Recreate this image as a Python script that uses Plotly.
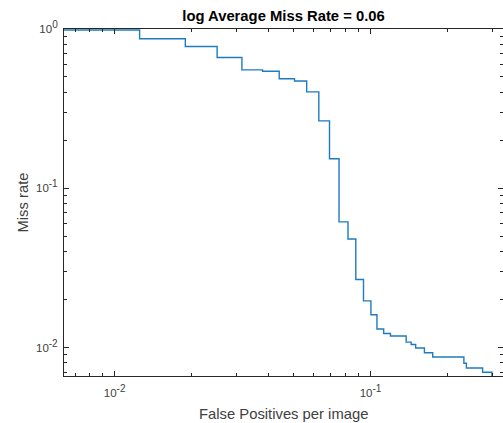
import plotly.graph_objects as go

# ROC-style miss rate vs false positives per image
fppi = [0.005, 0.01252, 0.01889, 0.02515, 0.03144, 0.03785, 0.04398, 0.05047,
        0.05632, 0.06281, 0.06915, 0.07534, 0.08168, 0.08762, 0.09391, 0.1004,
        0.1060, 0.1126, 0.1197, 0.1379, 0.1442, 0.1502, 0.1625, 0.1751,
        0.2318, 0.2371, 0.2744, 0.2983, 0.4]
miss_rate = [0.986, 0.868, 0.776, 0.662, 0.554, 0.543, 0.487, 0.471,
             0.403, 0.265, 0.1533, 0.0615, 0.0480, 0.02673, 0.01961, 0.01606,
             0.01307, 0.01225, 0.01181, 0.01080, 0.01044, 0.00993, 0.00926, 0.00872,
             0.00796, 0.00743, 0.00699, 0.00655, 0.00655]

x_major = [0.01, 0.1]
x_major_text = ["10<sup><span style='font-size:10px'>-2</span></sup>",
                "10<sup><span style='font-size:10px'>-1</span></sup>"]
y_major = [0.01, 0.1, 1]
y_major_text = ["10<sup><span style='font-size:10px'>-2</span></sup>",
                "10<sup><span style='font-size:10px'>-1</span></sup>",
                "10<sup><span style='font-size:10px'>0</span></sup>"]
minor_vals = [m * 10 ** e for e in (-3, -2, -1, 0) for m in range(2, 10)]

title_text = "log Average Miss Rate = 0.06"
x_title = "False Positives per image"
y_title = "Miss rate"

W, H = 503, 423
L, R, T, B = 64, 0, 29, 47

axis_col = "#262626"
font_family = "Liberation Sans, Arial, sans-serif"

fig = go.Figure()
fig.add_trace(go.Scatter(
    x=fppi, y=miss_rate, mode="lines", line_shape="hv",
    line=dict(color="#1f7bbf", width=1.4), showlegend=False, hoverinfo="x+y",
))

common = dict(
    type="log", showgrid=False, zeroline=False, showline=True, linecolor=axis_col,
    linewidth=1, mirror="ticks", ticks="inside", ticklen=5, tickcolor=axis_col,
    tickwidth=1, tickmode="array",
    tickfont=dict(family=font_family, size=11.5, color="#404040"),
    minor=dict(ticks="inside", ticklen=3, tickcolor=axis_col, tickwidth=1,
               tickmode="array", tickvals=minor_vals, showgrid=False),
)

fig.update_xaxes(range=[-2.198, -0.482], tickvals=x_major, ticktext=x_major_text,
                 ticklabelstandoff=6, **common)
fig.update_yaxes(range=[-2.179, 0], tickvals=y_major, ticktext=y_major_text,
                 ticklabelstandoff=3, **common)

fig.update_layout(
    width=W, height=H, margin=dict(l=L, r=R, t=T, b=B, autoexpand=False),
    paper_bgcolor="white", plot_bgcolor="white",
    font=dict(family=font_family, color="#262626"),
    title=dict(text="<b>" + title_text + "</b>", x=(L + (W - R)) / 2 / W, xanchor="center",
               xref="container", yref="container", y=1 - 15.5 / H, yanchor="middle",
               font=dict(size=14.8, color="#000000", family=font_family)),
    annotations=[
        dict(text=x_title, xref="paper", yref="paper", x=0.5, xanchor="center",
             y=-(414 - (H - B)) / (H - T - B), yanchor="middle", showarrow=False,
             font=dict(size=14.8, color="#404040", family=font_family)),
        dict(text=y_title, xref="paper", yref="paper", x=-(L - 22) / (W - L - R),
             xanchor="center", y=0.5, yanchor="middle", textangle=-90, showarrow=False,
             font=dict(size=14.8, color="#404040", family=font_family)),
    ],
)

fig.write_html("out.html", config={"displayModeBar": False},
               post_script="document.body.style.margin='0';document.body.style.overflow='hidden';")
